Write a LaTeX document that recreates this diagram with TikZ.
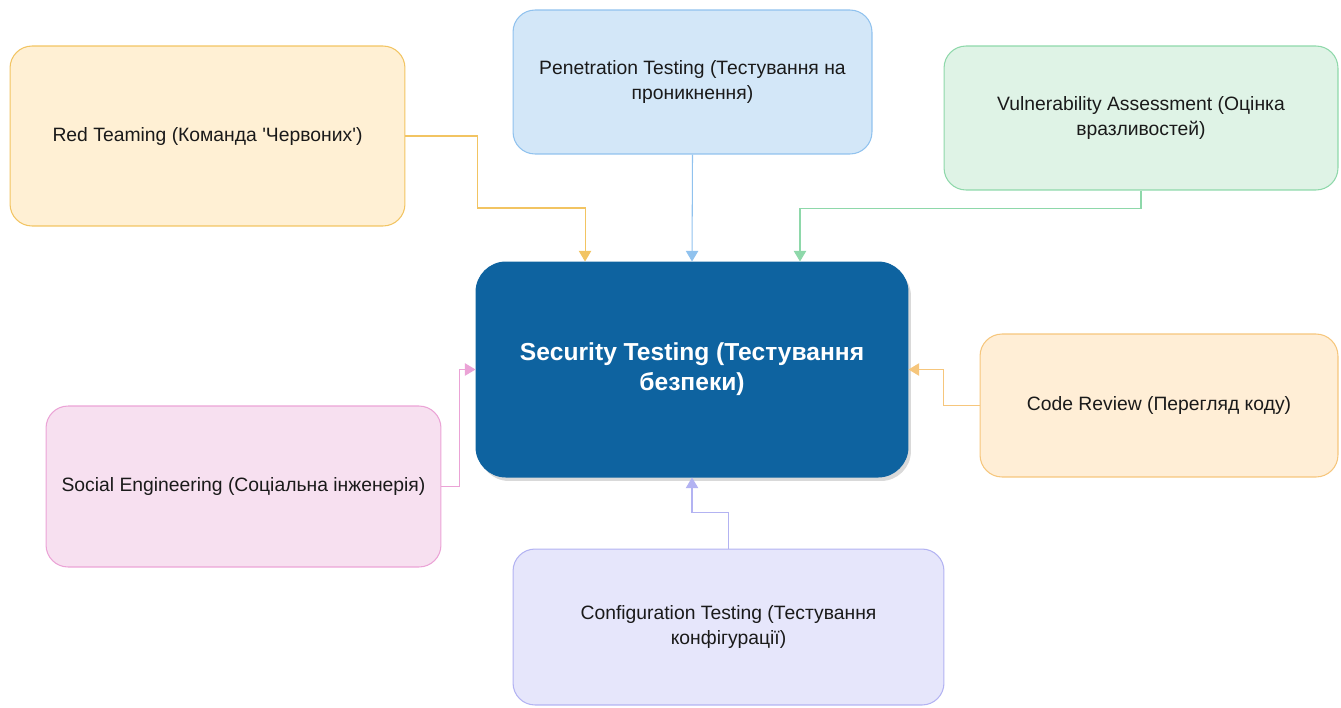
\documentclass[tikz,border=0pt]{standalone}
\usepackage{fontspec}
\setmainfont{Liberation Sans}
\usetikzlibrary{arrows.meta,shadows}

\definecolor{redfill}{HTML}{FFF0D4}
\definecolor{redline}{HTML}{F2C462}
\definecolor{penfill}{HTML}{D3E7F8}
\definecolor{penline}{HTML}{90C2EE}
\definecolor{vulnfill}{HTML}{DFF3E6}
\definecolor{vulnline}{HTML}{8ED8AA}
\definecolor{secfill}{HTML}{0E63A0}
\definecolor{codefill}{HTML}{FFEED6}
\definecolor{codeline}{HTML}{F6C67C}
\definecolor{socfill}{HTML}{F7E0F0}
\definecolor{socline}{HTML}{EBA3D6}
\definecolor{conffill}{HTML}{E6E6FB}
\definecolor{confline}{HTML}{B3B3F2}
\definecolor{txt}{HTML}{1A1A1A}

\begin{document}
\begin{tikzpicture}[x=0.02cm,y=-0.02cm,
  box/.style={draw, rounded corners=0.44cm, align=center, inner sep=0pt,
    line width=0.6pt, text=txt, font=\fontsize{11}{14.7}\selectfont},
  link/.style={-{Triangle[length=6pt,width=7pt]}, line width=0.6pt}]
\useasboundingbox (0,0) rectangle (1341,707);

% central node
\node[box, fill=secfill, draw=secfill, text=white, rounded corners=0.6cm,
  minimum width=8.64cm, minimum height=4.3cm,
  font=\fontsize{14}{17}\selectfont\bfseries,
  drop shadow={opacity=0.3, shadow xshift=0.06cm, shadow yshift=-0.08cm}]
  (sec) at (692,369.5) {Security Testing (Тестування\\безпеки)};

% surrounding nodes
\node[box, fill=redfill, draw=redline, minimum width=7.9cm, minimum height=3.6cm]
  (red) at (207.5,136) {Red Teaming (Команда \textquotesingle Червоних\textquotesingle)};
\node[box, fill=penfill, draw=penline, minimum width=7.18cm, minimum height=2.88cm]
  (pen) at (692.5,82) {Penetration Testing (Тестування на\\проникнення)};
\node[box, fill=vulnfill, draw=vulnline, minimum width=7.88cm, minimum height=2.88cm]
  (vuln) at (1141,118) {Vulnerability Assessment (Оцінка\\вразливостей)};
\node[box, fill=codefill, draw=codeline, minimum width=7.16cm, minimum height=2.86cm]
  (code) at (1159,405.5) {Code Review (Перегляд коду)};
\node[box, fill=socfill, draw=socline, minimum width=7.9cm, minimum height=3.22cm]
  (soc) at (243.5,486.5) {Social Engineering (Соціальна інженерія)};
\node[box, fill=conffill, draw=confline, minimum width=8.62cm, minimum height=3.12cm]
  (conf) at (728.5,627) {Configuration Testing (Тестування\\конфігурації)};

% connectors
\draw[link, redline] (red.east) -- ++(72,0) -- ++(0,72) -| ([xshift=-2.14cm]sec.north);
\draw[link, penline] (pen.south) -- (sec.north);
\draw[link, vulnline] (vuln.south) -- ++(0,18) -| ([xshift=2.16cm]sec.north);
\draw[link, codeline] (code.west) -- ++(-36,0) |- (sec.east);
\draw[link, socline] (soc.east) -- ++(18,0) |- (sec.west);
\draw[link, confline] (conf.north) -- ++(0,-36) -| (sec.south);
\end{tikzpicture}
\end{document}
